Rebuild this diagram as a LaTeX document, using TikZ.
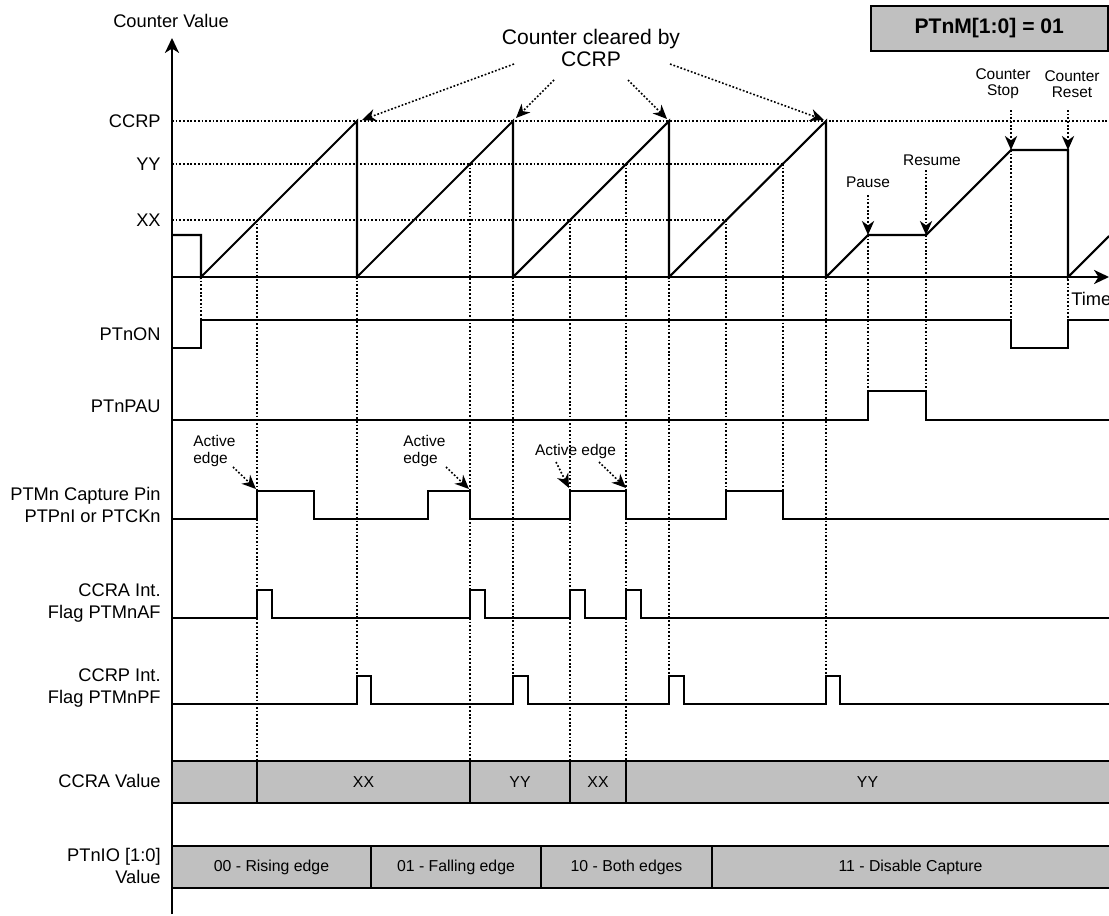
\documentclass[tikz,border=0pt]{standalone}
\usepackage{fontspec}
\setmainfont{Liberation Sans}
\usetikzlibrary{arrows.meta}
\definecolor{barfill}{RGB}{192,192,192}
\begin{document}
\begin{tikzpicture}[x=0.02cm,y=-0.02cm,
  sig/.style={line width=0.8pt},
  cnt/.style={line width=1.2pt},
  axis/.style={line width=1.2pt},
  dots/.style={line width=0.9pt, dash pattern=on 1pt off 1.1pt},
  lab/.style={font=\fontsize{10.4}{13}\selectfont, anchor=east, align=right, inner sep=0pt},
  small/.style={font=\fontsize{8.8}{9.3}\selectfont, inner sep=0pt},
  bartxt/.style={font=\fontsize{9}{11}\selectfont, inner sep=0pt},
  barline/.style={line width=0.9pt},
  ptr/.style={dots, -{Stealth[length=8pt,width=7pt,inset=2.5pt]}},
  axtip/.style={-{Stealth[length=8.5pt,width=8pt,inset=2.5pt]}},
]
\useasboundingbox (0,0) rectangle (1109,916);

% ---- coordinates
\coordinate (o) at (172,277);
\coordinate (ytop) at (172,38);
\coordinate (ybot) at (172,914);
\coordinate (xend) at (1109,277);

% ---- horizontal dotted reference levels
\draw[dots] (172,121) -- (1109,121);
\draw[dots] (172,164) -- (783,164);
\draw[dots] (172,220) -- (726,220);

% ---- vertical dotted lines
\draw[dots] (201,277) -- (201,320);
\draw[dots] (257,220) -- (257,761);
\draw[dots] (357,277) -- (357,676);
\draw[dots] (470,164) -- (470,761);
\draw[dots] (513,277) -- (513,676);
\draw[dots] (570,220) -- (570,761);
\draw[dots] (626,164) -- (626,761);
\draw[dots] (669,277) -- (669,676);
\draw[dots] (726,220) -- (726,491);
\draw[dots] (783,164) -- (783,491);
\draw[dots] (826,277) -- (826,676);
\draw[dots] (868,235) -- (868,391);
\draw[dots] (926,235) -- (926,391);
\draw[dots] (1011,150) -- (1011,320);
\draw[dots] (1068,150) -- (1068,320);

% ---- bars
\fill[barfill] (172,761) rectangle (1109,803);
\draw[barline] (172,761) -- (1109,761) (172,803) -- (1109,803);
\foreach \x in {257,470,570,626} \draw[barline] (\x,761) -- (\x,803);
\node[bartxt] (va) at (363.5,782) {XX};
\node[bartxt] (vb) at (520,782) {YY};
\node[bartxt] (vc) at (598,782) {XX};
\node[bartxt] (vd) at (867.5,782) {YY};

\fill[barfill] (172,846) rectangle (1109,888);
\draw[barline] (172,846) -- (1109,846) (172,888) -- (1109,888);
\foreach \x in {371,541,712} \draw[barline] (\x,846) -- (\x,888);
\node[bartxt] (ia) at (271.5,867) {00 - Rising edge};
\node[bartxt] (ib) at (456,867) {01 - Falling edge};
\node[bartxt] (ic) at (626.5,867) {10 - Both edges};
\node[bartxt] (id) at (910.5,867) {11 - Disable Capture};

% ---- axes
\draw[axis, axtip] (ybot) -- (ytop);
\draw[axis, axtip] (o) -- (xend);

% ---- counter waveform
\draw[cnt] (172,235) -- (201,235) -- (201,277) -- (357,121) -- (357,277)
  -- (513,121) -- (513,277) -- (669,121) -- (669,277) -- (826,121) -- (826,277)
  -- (868,235) -- (926,235) -- (1011,150) -- (1068,150) -- (1068,277) -- (1109,236);

% ---- digital signals
\draw[sig] (172,348) -- (201,348) -- (201,320) -- (1011,320) -- (1011,348)
  -- (1068,348) -- (1068,320) -- (1109,320);
\draw[sig] (172,420) -- (868,420) -- (868,391) -- (926,391) -- (926,420) -- (1109,420);
\draw[sig] (172,519) -- (257,519) -- (257,491) -- (314,491) -- (314,519)
  -- (428,519) -- (428,491) -- (470,491) -- (470,519) -- (570,519) -- (570,491)
  -- (626,491) -- (626,519) -- (726,519) -- (726,491) -- (783,491) -- (783,519) -- (1109,519);
\draw[sig] (172,618) -- (257,618) -- (257,590) -- (272,590) -- (272,618)
  -- (470,618) -- (470,590) -- (485,590) -- (485,618) -- (570,618) -- (570,590)
  -- (585,590) -- (585,618) -- (626,618) -- (626,590) -- (641,590) -- (641,618) -- (1109,618);
\draw[sig] (172,704) -- (357,704) -- (357,676) -- (371,676) -- (371,704)
  -- (513,704) -- (513,676) -- (528,676) -- (528,704) -- (669,704) -- (669,676)
  -- (684,676) -- (684,704) -- (826,704) -- (826,676) -- (840,676) -- (840,704) -- (1109,704);

% ---- mode box
\node[draw, fill=barfill, line width=0.9pt, minimum width=4.74cm, minimum height=0.9cm,
  anchor=north west, inner sep=0pt, font=\bfseries\fontsize{12}{14}\selectfont] (mode) at (870,5) {PTnM[1:0] = 01};

% ---- axis labels
\node[font=\fontsize{10.4}{13}\selectfont, inner sep=0pt] (cv) at (171,21) {Counter Value};
\node[font=\fontsize{10.4}{13}\selectfont, inner sep=0pt, anchor=west] (tm) at (1071,299) {Time};
\node[lab] (lccrp) at (161,121) {CCRP};
\node[lab] (lyy) at (161,164) {YY};
\node[lab] (lxx) at (161,220) {XX};
\node[lab] (lon) at (161,334) {PTnON};
\node[lab] (lpau) at (161,406) {PTnPAU};
\node[lab] (lcap) at (161,505) {PTMn Capture Pin\\PTPnI or PTCKn};
\node[lab] (laf) at (161,603) {CCRA Int.\\Flag PTMnAF};
\node[lab] (lpf) at (161,688) {CCRP Int.\\Flag PTMnPF};
\node[lab] (lva) at (161,781) {CCRA Value};
\node[lab] (lio) at (161,866) {PTnIO [1:0]\\Value};

% ---- counter cleared annotation
\node[font=\fontsize{12}{12.5}\selectfont, align=center, inner sep=0pt] (clr) at (591,48) {Counter cleared by\\CCRP};
\coordinate (c1s) at (514,64);  \coordinate (c1e) at (362,120);
\coordinate (c2s) at (554,80);  \coordinate (c2e) at (516,118);
\coordinate (c3s) at (628,80);  \coordinate (c3e) at (667,119);
\coordinate (c4s) at (670,64);  \coordinate (c4e) at (824,120);
\draw[ptr] (c1s) -- (c1e);
\draw[ptr] (c2s) -- (c2e);
\draw[ptr] (c3s) -- (c3e);
\draw[ptr] (c4s) -- (c4e);

% ---- pause / resume / stop / reset
\node[small] (pause) at (868,182) {Pause};
\node[small] (resume) at (932,160) {Resume};
\node[small, align=center] (cstop) at (1003,84) {Counter\\Stop};
\node[small, align=center] (creset) at (1072,84) {Counter\\Reset};
\coordinate (pz) at (868,235);
\coordinate (rs) at (926,235);
\coordinate (st) at (1011,150);
\coordinate (rt) at (1068,150);
\draw[ptr] (868,195) -- (pz);
\draw[ptr] (926,170) -- (rs);
\draw[ptr] (1011,110) -- (st);
\draw[ptr] (1068,110) -- (rt);

% ---- active edge annotations
\node[small, align=left, anchor=west] (ae1) at (193,451) {Active\\edge};
\node[small, align=left, anchor=west] (ae2) at (403,451) {Active\\edge};
\node[small] (ae3) at (575.5,451) {Active edge};
\coordinate (e1) at (256,489);
\coordinate (e2) at (469,489);
\coordinate (e3) at (569,488);
\coordinate (e4) at (626,488);
\draw[ptr] (233,467) -- (e1);
\draw[ptr] (446,467) -- (e2);
\draw[ptr] (556,462) -- (e3);
\draw[ptr] (599,462) -- (e4);
\end{tikzpicture}
\end{document}
